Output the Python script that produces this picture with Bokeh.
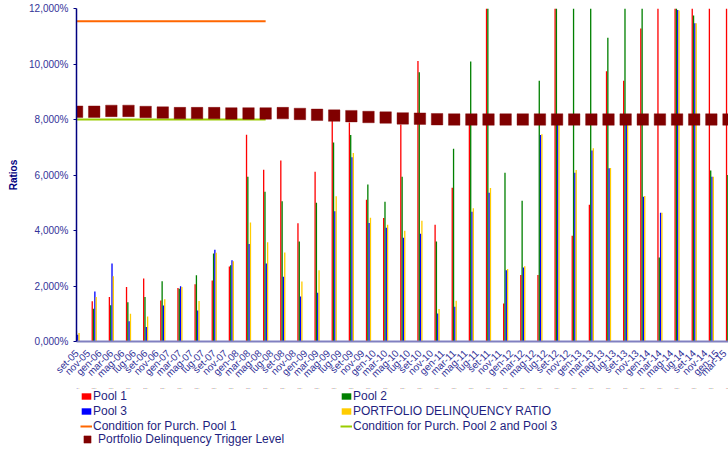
import math
from bokeh.plotting import figure
from bokeh.layouts import column
from bokeh.models import (ColumnDataSource, FixedTicker, Legend, LegendItem, Range1d)
from bokeh.embed import file_html
from bokeh.resources import INLINE

# ---------------- data (values in %) ----------------
periods = ["set-05", "dic-05", "mar-06", "giu-06", "set-06", "dic-06", "mar-07", "giu-07",
           "set-07", "dic-07", "mar-08", "giu-08", "set-08", "dic-08", "mar-09", "giu-09",
           "set-09", "dic-09", "mar-10", "giu-10", "set-10", "dic-10", "mar-11", "giu-11",
           "set-11", "dic-11", "mar-12", "giu-12", "set-12", "dic-12", "mar-13", "giu-13",
           "set-13", "dic-13", "mar-14", "giu-14", "set-14", "dic-14", "mar-15"]

pool1 = [0.30, 1.45, 1.60, 1.96, 2.27, 1.48, 1.93, 2.06, 2.20, 2.70, 7.45, 6.19, 6.52,
         4.26, 6.12, 7.96, 7.89, 5.11, 4.45, 7.82, 10.11, 4.21, 5.54, 7.84, 13.5, 1.37,
         2.40, 2.40, 13.5, 3.81, 4.93, 9.74, 9.40, 11.28, 13.5, 13.5, 13.5, 13.5, 13.5]
pool2 = [0.37, 1.18, 1.31, 1.41, 1.60, 2.17, 1.90, 2.39, 3.17, 2.75, 5.94, 5.40, 5.05,
         3.60, 5.00, 7.17, 7.44, 5.66, 5.04, 5.94, 9.70, 3.60, 6.95, 10.09, 13.5, 6.08,
         5.07, 9.40, 13.5, 13.5, 13.5, 10.95, 13.5, 13.5, 3.03, 12.3, 11.75, 6.16, 6.0]
pool3 = [0.24, 1.80, 2.81, 0.73, 0.52, 1.30, 1.99, 1.12, 3.31, 2.93, 3.51, 2.81, 2.33,
         1.62, 1.76, 4.69, 6.64, 4.27, 4.10, 3.74, 3.88, 1.01, 1.25, 4.68, 5.36, 2.57,
         2.67, 7.44, 7.90, 6.08, 6.88, 6.24, 7.80, 5.22, 4.64, 11.95, 11.47, 5.94, 6.0]
portfolio = [0.31, 1.60, 2.35, 1.00, 0.90, 1.52, 1.96, 1.46, 3.20, 2.89, 4.29, 3.58, 3.21,
             2.16, 2.57, 5.23, 6.79, 4.46, 4.21, 3.99, 4.35, 1.17, 1.47, 4.80, 5.53, 2.61,
             2.71, 7.47, 7.92, 6.18, 6.96, 6.25, 7.82, 5.24, 4.64, 11.93, 11.47, 5.94, 6.0]
trigger = [8.28, 8.28, 8.31, 8.31, 8.27, 8.25, 8.23, 8.23, 8.23, 8.22, 8.22, 8.22, 8.23,
           8.20, 8.17, 8.14, 8.12, 8.09, 8.07, 8.04, 8.03, 8.01, 8.00, 8.00, 8.00, 8.00,
           8.00, 8.00, 8.00, 8.00, 8.00, 8.00, 8.00, 8.00, 8.00, 8.00, 8.00, 8.00, 8.00]

cond_periods = ["set-05", "dic-05", "mar-06", "giu-06", "set-06", "dic-06", "mar-07",
                "giu-07", "set-07", "dic-07", "mar-08", "giu-08"]
cond_pool1 = [11.54, 11.54, 11.54, 11.54, 11.54, 11.54, 11.54, 11.54, 11.54, 11.54, 11.54, 11.54]
cond_pool23 = [8.0, 8.0, 8.0, 8.0, 8.0, 8.0, 8.0, 8.0, 8.0, 8.0, 8.0, 8.0]

x_tick_labels = ["set-05", "nov-05",
                 "gen-06", "mar-06", "mag-06", "lug-06", "set-06", "nov-06",
                 "gen-07", "mar-07", "mag-07", "lug-07", "set-07", "nov-07",
                 "gen-08", "mar-08", "mag-08", "lug-08", "set-08", "nov-08",
                 "gen-09", "mar-09", "mag-09", "lug-09", "set-09", "nov-09",
                 "gen-10", "mar-10", "mag-10", "lug-10", "set-10", "nov-10",
                 "gen-11", "mar-11", "mag-11", "lug-11", "set-11", "nov-11",
                 "gen-12", "mar-12", "mag-12", "lug-12", "set-12", "nov-12",
                 "gen-13", "mar-13", "mag-13", "lug-13", "set-13", "nov-13",
                 "gen-14", "mar-14", "mag-14", "lug-14", "set-14", "nov-14",
                 "gen-15", "mar-15"]
y_tick_values = [0, 2, 4, 6, 8, 10, 12]
y_tick_labels = ["0,000%", "2,000%", "4,000%", "6,000%", "8,000%", "10,000%", "12,000%"]

series_names = ["Pool 1", "Pool 2", "Pool 3", "PORTFOLIO DELINQUENCY RATIO",
                "Condition for Purch. Pool 1", "Condition for Purch. Pool 2 and Pool 3",
                "Portfolio Delinquency Trigger Level"]

# ---------------- positions on a monthly axis ----------------
MONTHS_PER_PERIOD = 3
MONTHS_PER_TICK = 2
x = [MONTHS_PER_PERIOD * i for i in range(len(periods))]
xc = [MONTHS_PER_PERIOD * periods.index(pp) for pp in cond_periods]
x_ticks = [MONTHS_PER_TICK * i for i in range(len(x_tick_labels))]

BW = 0.23
src = ColumnDataSource(dict(
    x1=[v - 1.5 * BW for v in x], x2=[v - 0.5 * BW for v in x],
    x3=[v + 0.5 * BW for v in x], x4=[v + 1.5 * BW for v in x],
    pool1=pool1, pool2=pool2, pool3=pool3, portfolio=portfolio,
    x=x, trigger=trigger))
csrc = ColumnDataSource(dict(x=xc, c1=cond_pool1, c23=cond_pool23))

FONT = "Liberation Sans"
TXT = "#333399"
C_P1, C_P2, C_P3, C_PF = "#FF0000", "#008000", "#0000FF", "#FFCC00"
C_C1, C_C23, C_TR = "#FF6600", "#99CC00", "#800000"


def add_series(fig):
    rs = [fig.vbar(x="x1", top="pool1", width=BW, source=src, fill_color=C_P1, line_color=None),
          fig.vbar(x="x2", top="pool2", width=BW, source=src, fill_color=C_P2, line_color=None),
          fig.vbar(x="x3", top="pool3", width=BW, source=src, fill_color=C_P3, line_color=None),
          fig.vbar(x="x4", top="portfolio", width=BW, source=src, fill_color=C_PF, line_color=None),
          fig.line(x="x", y="c1", source=csrc, line_color=C_C1, line_width=2),
          fig.line(x="x", y="c23", source=csrc, line_color=C_C23, line_width=2),
          fig.scatter(x="x", y="trigger", source=src, marker="square", size=11.5,
                      fill_color=C_TR, line_color=C_TR, line_alpha=0.4)]
    return rs


p = figure(width=728, height=388, output_backend="svg", toolbar_location=None,
           x_range=Range1d(-0.1, 114.0), y_range=Range1d(0, 12),
           min_border_left=76, min_border_right=0, min_border_top=8, min_border_bottom=47)
p.outline_line_color = None
p.xgrid.visible = False
p.ygrid.visible = False
add_series(p)

# axes
p.yaxis.ticker = FixedTicker(ticks=y_tick_values)
p.yaxis.major_label_overrides = {v: l for v, l in zip(y_tick_values, y_tick_labels)}
p.yaxis.axis_label = "Ratios"
p.yaxis.axis_label_text_font = FONT
p.yaxis.axis_label_text_font_size = "10px"
p.yaxis.axis_label_text_font_style = "bold"
p.yaxis.axis_label_text_color = "#000080"
p.yaxis.axis_label_standoff = 7
p.yaxis.major_label_text_font = FONT
p.yaxis.major_label_text_font_size = "10px"
p.yaxis.major_label_text_color = TXT
p.yaxis.axis_line_color = "#000080"
p.yaxis.axis_line_width = 1.5
p.yaxis.major_tick_line_color = "#000080"
p.yaxis.major_tick_out = 3
p.yaxis.major_tick_in = 0
p.yaxis.minor_tick_line_color = None
p.yaxis.major_label_standoff = 5

p.xaxis.ticker = FixedTicker(ticks=x_ticks)
p.xaxis.major_label_overrides = {v: l for v, l in zip(x_ticks, x_tick_labels)}
p.xaxis.major_label_orientation = math.pi / 4
p.xaxis.major_label_text_font = FONT
p.xaxis.major_label_text_font_size = "10px"
p.xaxis.major_label_text_color = TXT
p.xaxis.axis_line_color = "#8080C0"
p.xaxis.axis_line_width = 2
p.xaxis.major_tick_line_color = None
p.xaxis.minor_tick_line_color = None
p.xaxis.major_label_standoff = 4

# ---------------- legend strip below the chart ----------------
# same series drawn on a y-range where they fall out of view; only the legend shows
lp = figure(width=728, height=64, output_backend="svg", toolbar_location=None,
            x_axis_type=None, y_axis_type=None, x_range=p.x_range,
            y_range=Range1d(-3, -2), min_border=0, min_border_left=0,
            min_border_right=0, min_border_top=0, min_border_bottom=0)
lp.outline_line_color = None
lp.xgrid.visible = False
lp.ygrid.visible = False
g = add_series(lp)

LEG = dict(label_standoff=1, spacing=1, padding=0, margin=0, border_line_color=None,
           background_fill_alpha=0, label_text_font=FONT, label_text_font_size="12px",
           label_text_color="#1F1F80", label_height=13)

legA = Legend(items=[LegendItem(label=series_names[i], renderers=[g[i]]) for i in range(6)],
              orientation="horizontal", ncols=2, location=(4, 19),
              glyph_width=12, glyph_height=8, label_width=246, **LEG)
lp.add_layout(legA)
legB = Legend(items=[LegendItem(label=series_names[6], renderers=[g[6]])],
              orientation="vertical", location=(1, 4),
              glyph_width=20, glyph_height=18, **LEG)
lp.add_layout(legB)

layout = column(p, lp, spacing=0)
open("out.html", "w").write(file_html(layout, INLINE))
